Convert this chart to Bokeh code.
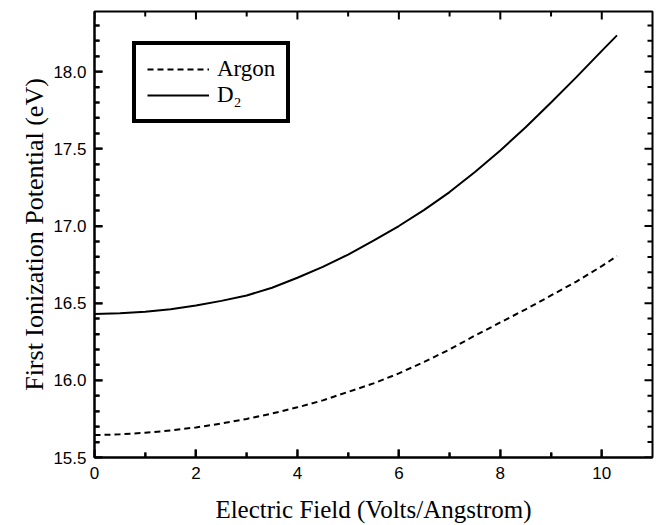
from bokeh.plotting import figure
from bokeh.models import Range1d, FixedTicker, Legend, LegendItem, PrintfTickFormatter
from bokeh.embed import file_html
from bokeh.resources import INLINE

# Data
field = [0, 0.5, 1, 1.5, 2, 2.5, 3, 3.5, 4, 4.5, 5, 5.5, 6, 6.5, 7, 7.5, 8, 8.5, 9, 9.5, 10, 10.3]
argon = [15.645, 15.65, 15.66, 15.675, 15.695, 15.72, 15.75, 15.785, 15.825, 15.87, 15.925,
         15.98, 16.045, 16.12, 16.20, 16.29, 16.375, 16.46, 16.55, 16.64, 16.74, 16.805]
d2 = [16.43, 16.434, 16.445, 16.46, 16.485, 16.515, 16.55, 16.60, 16.665, 16.735, 16.815,
      16.905, 17.0, 17.105, 17.22, 17.35, 17.49, 17.64, 17.80, 17.965, 18.135, 18.235]
series_names = ["Argon", "D\u2082"]

# Axis ticks
x_major = [0, 2, 4, 6, 8, 10]
x_minor = [1, 3, 5, 7, 9]
y_major = [15.5, 16.0, 16.5, 17.0, 17.5, 18.0]
y_minor = [15.6, 15.7, 15.8, 15.9, 16.1, 16.2, 16.3, 16.4, 16.6, 16.7, 16.8, 16.9,
           17.1, 17.2, 17.3, 17.4, 17.6, 17.7, 17.8, 17.9, 18.1, 18.2, 18.3]
X_MIN, X_MAX = 0, 11
Y_MIN, Y_MAX = 15.5, 18.39

SERIF = "Liberation Serif"
SANS = "Liberation Sans"

W, H = 660, 525
BL, BR, BT, BB = 94, 8, 11, 68

p = figure(width=W, height=H, output_backend="svg", toolbar_location=None,
           x_range=Range1d(X_MIN, X_MAX), y_range=Range1d(Y_MIN, Y_MAX),
           min_border_left=BL, min_border_right=BR, min_border_top=BT, min_border_bottom=BB)
p.outline_line_color = "black"
p.outline_line_width = 2
p.grid.visible = False

xb = p.xaxis[0]
yl = p.yaxis[0]
xb.ticker = FixedTicker(ticks=x_major, minor_ticks=x_minor)
yl.ticker = FixedTicker(ticks=y_major, minor_ticks=y_minor)
yl.formatter = PrintfTickFormatter(format="%.1f")
xb.axis_label = "Electric Field (Volts/Angstrom)"
yl.axis_label = "First Ionization Potential (eV)"
for ax in (xb, yl):
    ax.axis_line_color = "black"
    ax.axis_line_width = 2
    ax.major_tick_in = 8
    ax.major_tick_out = 0
    ax.minor_tick_in = 5
    ax.minor_tick_out = 0
    ax.major_tick_line_width = 2
    ax.minor_tick_line_width = 2
    ax.major_label_text_font = SANS
    ax.major_label_text_font_size = "17px"
    ax.major_label_text_color = "black"
    ax.major_label_standoff = 9
    ax.axis_label_text_font = SERIF
    ax.axis_label_text_font_style = "normal"
    ax.axis_label_text_font_size = "25px"
    ax.axis_label_text_color = "black"
xb.axis_label_standoff = 14
yl.axis_label_text_font_size = "26px"
yl.major_label_standoff = 8
yl.axis_label_standoff = 1

# Inward tick marks on all four sides: filled bars centred on the frame edge,
# clipped by the frame so only the inner half shows.
rect_kw = dict(fill_color="black", line_color=None,
               width_units="screen", height_units="screen")
for xs, ln in ((x_major, 16), (x_minor, 10)):
    n = len(xs)
    p.rect(x=xs, y=[Y_MIN] * n, width=2, height=ln, **rect_kw)
    p.rect(x=xs, y=[Y_MAX] * n, width=2, height=ln, **rect_kw)
for ys, ln in ((y_major, 16), (y_minor, 10)):
    n = len(ys)
    p.rect(x=[X_MIN] * n, y=ys, width=ln, height=2, **rect_kw)
    p.rect(x=[X_MAX] * n, y=ys, width=ln, height=2, **rect_kw)

r_ar = p.line(field, argon, line_color="black", line_width=2, line_dash="6 4")
r_d2 = p.line(field, d2, line_color="black", line_width=2)

legend = Legend(items=[LegendItem(label=series_names[0], renderers=[r_ar]),
                       LegendItem(label=series_names[1], renderers=[r_d2])],
                location=(38, 334))
legend.border_line_color = "black"
legend.border_line_alpha = 1.0
legend.border_line_width = 4
legend.label_text_font = SERIF
legend.label_text_font_size = "23px"
legend.label_text_color = "black"
legend.glyph_width = 62
legend.glyph_height = 24
legend.label_height = 24
legend.label_standoff = 8
legend.spacing = 0
legend.padding = 11
p.add_layout(legend, "center")

open("out.html", "w").write(file_html(p, INLINE))
